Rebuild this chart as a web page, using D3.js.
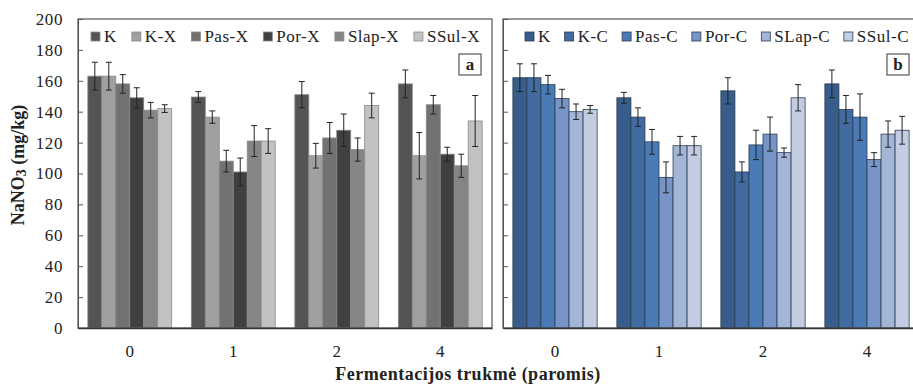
<!DOCTYPE html>
<html>
<head>
<meta charset="utf-8">
<script src="https://cdn.jsdelivr.net/npm/d3@7"></script>
<style>
  body { margin: 0; background: #fff; }
  svg text { font-family: "Liberation Serif", "Times New Roman", serif; fill: #222; }
</style>
</head>
<body>
<svg id="chart" width="913" height="384"></svg>
<script>
// fermentation days
const groups = ["0", "1", "2", "4"];
const yTicks = [0, 20, 40, 60, 80, 100, 120, 140, 160, 180, 200];

// panel a
const seriesA = ["K", "K-X", "Pas-X", "Por-X", "Slap-X", "SSul-X"];
const valuesA = [
    [163, 149.5, 151, 158],
    [163, 136.5, 111.5, 111.5],
    [158, 108, 123, 144.5],
    [149, 101, 128, 112.5],
    [141, 121, 115.5, 105],
    [142, 121, 144, 134]
];
const errorsA = [
    [9, 3.5, 8.5, 9],
    [9, 4, 8, 15],
    [6, 7, 10, 6],
    [6.5, 9, 10.5, 4.5],
    [5, 10, 7.5, 7.5],
    [2.5, 8, 8, 16.5]
];

// panel b
const seriesB = ["K", "K-C", "Pas-C", "Por-C", "SLap-C", "SSul-C"];
const valuesB = [
    [162, 149, 153.5, 158],
    [162, 136.5, 101, 141.5],
    [157.5, 120.5, 118.5, 136.5],
    [148.5, 97.5, 125.5, 109],
    [140, 118, 113.5, 125.5],
    [141.5, 118, 149, 128]
];
const errorsB = [
    [9, 3.5, 8.5, 9],
    [9, 6, 6.5, 9],
    [6, 8, 9.5, 15],
    [6, 10, 11, 4.5],
    [5, 6, 3, 8.5],
    [2.5, 6, 8.5, 9]
];

const svg = d3.select("#chart");
const plotTop = 19, plotBottom = 328;

const y = d3.scaleLinear().domain([0, 200]).range([plotBottom, plotTop]);

function panel(opts) {
    const g = svg.append("g");
    const x0 = d3.scaleBand().domain(groups)
        .range([opts.left, opts.right])
        .paddingInner(0.19).paddingOuter(0.095);
    const x1 = d3.scaleBand().domain(opts.series).range([0, x0.bandwidth()]);

    // bars
    opts.series.forEach((s, i) => {
        const sg = g.append("g");
        const d = groups.map((grp, j) => ({grp, v: opts.values[i][j], e: opts.errors[i][j]}));
        sg.selectAll("rect").data(d).join("rect")
            .attr("x", d => x0(d.grp) + x1(s))
            .attr("y", d => y(d.v))
            .attr("width", x1.bandwidth())
            .attr("height", d => y(0) - y(d.v))
            .attr("fill", opts.colors[i])
            .attr("stroke", opts.barStroke)
            .attr("stroke-width", 0.8);

        const cx = d => x0(d.grp) + x1(s) + x1.bandwidth() / 2;
        sg.selectAll("line.err").data(d).join("line").attr("class", "err")
            .attr("x1", cx).attr("x2", cx)
            .attr("y1", d => y(d.v + d.e)).attr("y2", d => y(d.v - d.e))
            .attr("stroke", "#222").attr("stroke-width", 1);
        ["t", "b"].forEach(k => {
            const ey = d => y(k === "t" ? d.v + d.e : d.v - d.e);
            sg.selectAll("line.cap" + k).data(d).join("line")
                .attr("class", "cap" + k)
                .attr("x1", d => cx(d) - 3).attr("x2", d => cx(d) + 3)
                .attr("y1", ey).attr("y2", ey)
                .attr("stroke", "#222").attr("stroke-width", 1);
        });
    });

    // frame
    g.append("rect")
        .attr("x", opts.left).attr("y", plotTop)
        .attr("width", opts.right - opts.left).attr("height", plotBottom - plotTop)
        .attr("fill", "none").attr("stroke", "#555").attr("stroke-width", 1.2);

    // y axis, ticks pointing inward
    const ya = g.append("g").attr("transform", `translate(${opts.left},0)`)
        .call(d3.axisRight(y).tickValues(yTicks).tickSize(5).tickFormat(opts.yLabels ? d3.format("d") : ""));
    ya.select(".domain").attr("stroke", "#555");
    ya.selectAll(".tick line").attr("stroke", "#555");
    ya.selectAll(".tick text")
        .attr("x", opts.yLabels ? -15 : 0)
        .attr("text-anchor", "end")
        .style("font-size", "17px").style("letter-spacing", "0.6px");

    // x axis
    const xa = g.append("g").attr("transform", `translate(0,${plotBottom})`)
        .call(d3.axisBottom(x0).tickSize(0).tickPadding(17));
    xa.select(".domain").attr("stroke", "#333").attr("stroke-width", 1.5);
    xa.selectAll(".tick text").style("font-size", "17px");

    // legend, spread across the top of the panel
    const lg = g.append("g");
    const items = lg.selectAll("g").data(opts.series).join("g");
    items.append("rect")
        .attr("y", 32).attr("width", 9).attr("height", 9)
        .attr("fill", (d, i) => opts.colors[i])
        .attr("stroke", opts.barStroke).attr("stroke-width", 0.8);
    items.append("text")
        .attr("x", 13).attr("y", 42)
        .style("font-size", "17px").style("letter-spacing", "0.5px")
        .text(d => d);
    const widths = items.nodes().map(n => n.getBBox().width);
    const total = d3.sum(widths);
    const gap = (opts.legendEnd - opts.legendStart - total) / (widths.length - 1);
    let cur = opts.legendStart;
    items.each(function(d, i) {
        d3.select(this).attr("transform", `translate(${cur},0)`);
        cur += widths[i] + gap;
    });

    // panel letter
    const lbl = g.append("g");
    lbl.append("rect")
        .attr("x", opts.tagX).attr("y", 54).attr("width", 22).attr("height", 21)
        .attr("fill", "#fff").attr("stroke", "#555").attr("stroke-width", 1.2);
    lbl.append("text")
        .attr("x", opts.tagX + 11).attr("y", 70)
        .attr("text-anchor", "middle")
        .style("font-size", "17px").style("font-weight", "bold")
        .text(opts.tag);
}

panel({
    left: 78, right: 492, series: seriesA, values: valuesA, errors: errorsA,
    colors: ["#545454", "#a0a0a0", "#727272", "#404040", "#858585", "#c2c2c2"],
    barStroke: "#888", yLabels: true, legendStart: 91, legendEnd: 480,
    tag: "a", tagX: 459
});

panel({
    left: 503, right: 919, series: seriesB, values: valuesB, errors: errorsB,
    colors: ["#375d8b", "#416ba1", "#4a7bb7", "#7694c6", "#a4b6d8", "#c3cde2"],
    barStroke: "#2c3e55", yLabels: false, legendStart: 525, legendEnd: 909,
    tag: "b", tagX: 887
});

// axis titles
const yTitle = svg.append("text")
    .attr("transform", `translate(24,165) rotate(-90)`)
    .attr("text-anchor", "middle")
    .style("font-size", "18px").style("font-weight", "bold");
yTitle.append("tspan").text("NaNO");
yTitle.append("tspan").attr("dy", 2).style("font-size", "14px").text("3");
yTitle.append("tspan").attr("dy", -2).text(" (mg/kg)");

svg.append("text")
    .attr("x", 468).attr("y", 380)
    .attr("text-anchor", "middle")
    .style("font-size", "18px").style("font-weight", "bold")
    .style("letter-spacing", "0.5px")
    .text("Fermentacijos trukmė (paromis)");
</script>
</body>
</html>
